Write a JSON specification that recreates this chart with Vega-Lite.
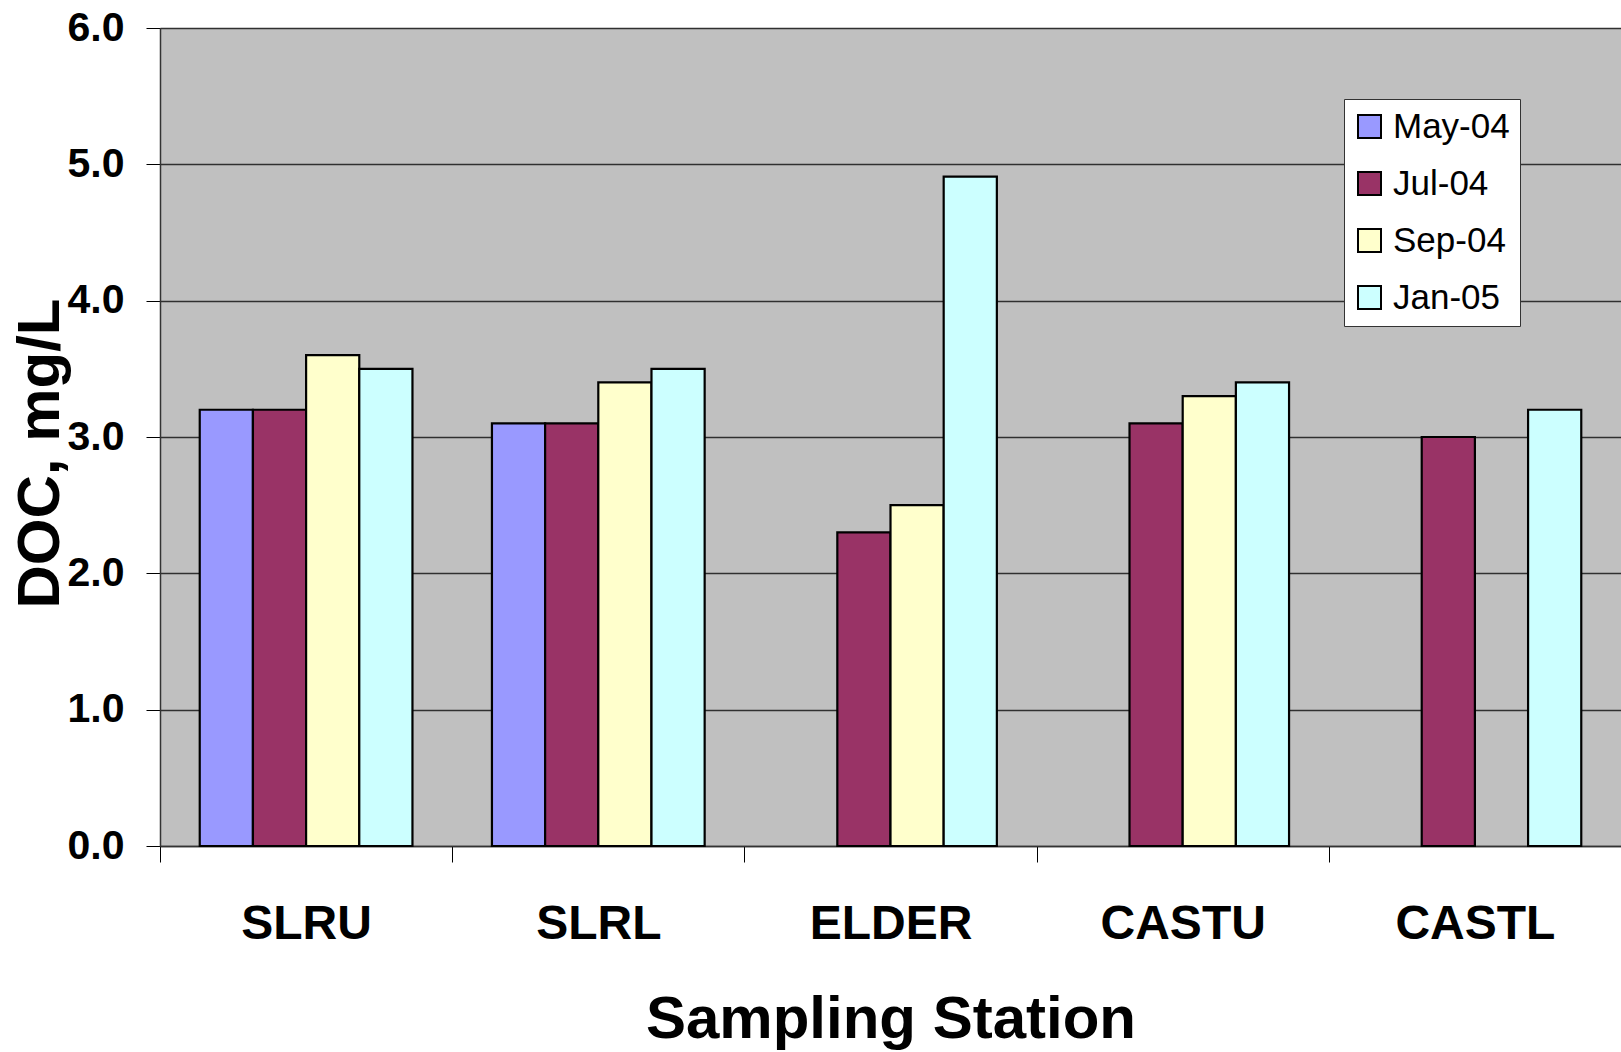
{
  "$schema": "https://vega.github.io/schema/vega-lite/v6.json",
  "width": 1461,
  "height": 818,
  "autosize": {"type": "none"},
  "padding": {"left": 160, "top": 28, "right": 0, "bottom": 206},
  "background": "white",
  "config": {
    "font": "Liberation Sans",
    "view": {"fill": "#C0C0C0", "stroke": null}
  },
  "data": {
    "values": [
      {"station": "SLRU", "date": "May-04", "doc": 3.2},
      {"station": "SLRU", "date": "Jul-04", "doc": 3.2},
      {"station": "SLRU", "date": "Sep-04", "doc": 3.6},
      {"station": "SLRU", "date": "Jan-05", "doc": 3.5},
      {"station": "SLRL", "date": "May-04", "doc": 3.1},
      {"station": "SLRL", "date": "Jul-04", "doc": 3.1},
      {"station": "SLRL", "date": "Sep-04", "doc": 3.4},
      {"station": "SLRL", "date": "Jan-05", "doc": 3.5},
      {"station": "ELDER", "date": "Jul-04", "doc": 2.3},
      {"station": "ELDER", "date": "Sep-04", "doc": 2.5},
      {"station": "ELDER", "date": "Jan-05", "doc": 4.91},
      {"station": "CASTU", "date": "Jul-04", "doc": 3.1},
      {"station": "CASTU", "date": "Sep-04", "doc": 3.3},
      {"station": "CASTU", "date": "Jan-05", "doc": 3.4},
      {"station": "CASTL", "date": "Jul-04", "doc": 3.0},
      {"station": "CASTL", "date": "Jan-05", "doc": 3.2}
    ]
  },
  "mark": {"type": "bar", "stroke": "black", "strokeWidth": 2.2},
  "encoding": {
    "x": {
      "field": "station",
      "type": "nominal",
      "sort": ["SLRU", "SLRL", "ELDER", "CASTU", "CASTL"],
      "scale": {"paddingInner": 0.272, "paddingOuter": 0.136},
      "axis": {
        "title": "Sampling Station",
        "titleFontSize": 60,
        "titleFontWeight": "bold",
        "titleColor": "black",
        "titleBaseline": "alphabetic",
        "titleAlign": "center",
        "titleX": 730.5,
        "titleY": 191,
        "labelAngle": 0,
        "labelFontSize": 48,
        "labelFontWeight": "bold",
        "labelColor": "black",
        "labelPadding": 38,
        "labelOffset": 146.1,
        "tickOffset": -146.1,
        "tickSize": 16,
        "tickColor": "black",
        "domainColor": "#333333",
        "domainWidth": 1.5,
        "grid": false
      }
    },
    "xOffset": {
      "field": "date",
      "type": "nominal",
      "scale": {"domain": ["May-04", "Jul-04", "Sep-04", "Jan-05"], "paddingInner": 0, "paddingOuter": 0}
    },
    "y": {
      "field": "doc",
      "type": "quantitative",
      "scale": {"domain": [0, 6], "nice": false},
      "axis": {
        "title": "DOC, mg/L",
        "titleFontSize": 60,
        "titleFontWeight": "bold",
        "titleColor": "black",
        "titleAngle": -90,
        "titleBaseline": "alphabetic",
        "titleAlign": "center",
        "titleX": -102,
        "titleY": 425,
        "values": [0, 1, 2, 3, 4, 5, 6],
        "format": ".1f",
        "labelFontSize": 41,
        "labelFontWeight": "bold",
        "labelColor": "black",
        "labelPadding": 22,
        "tickSize": 14,
        "tickColor": "black",
        "domainColor": "#333333",
        "domainWidth": 1.5,
        "grid": true,
        "gridColor": "#303030",
        "gridWidth": 1.5,
        "gridOpacity": 1
      }
    },
    "color": {
      "field": "date",
      "type": "nominal",
      "scale": {
        "domain": ["May-04", "Jul-04", "Sep-04", "Jan-05"],
        "range": ["#9999FF", "#993366", "#FFFFCC", "#CCFFFF"]
      },
      "legend": {
        "title": null,
        "orient": "none",
        "legendX": 1184,
        "legendY": 71,
        "fillColor": "white",
        "strokeColor": "#333333",
        "padding": 10,
        "symbolType": "square",
        "symbolSize": 529,
        "symbolStrokeColor": "black",
        "symbolStrokeWidth": 2,
        "symbolOffset": -2,
        "labelFontSize": 35,
        "labelColor": "black",
        "labelOffset": 6,
        "rowPadding": 21,
        "labelLimit": 300
      }
    }
  }
}
